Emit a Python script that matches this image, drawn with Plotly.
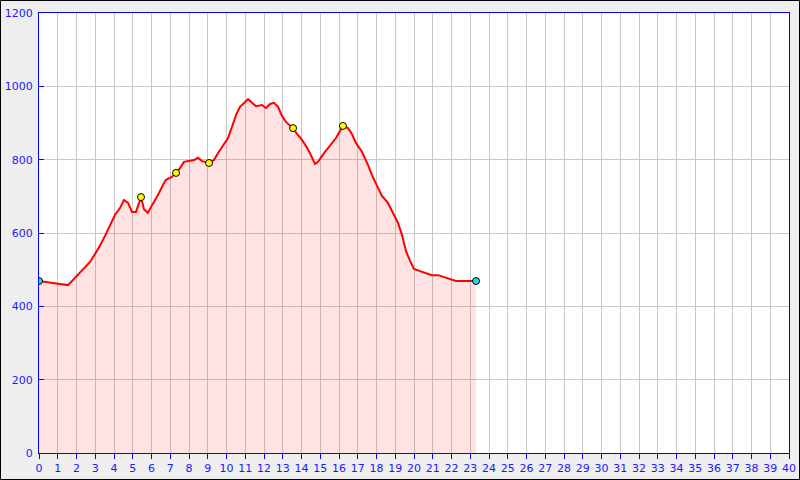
import plotly.graph_objects as go

# Distance (x) and elevation (y) of the profile
dist = [0, 0.59, 1.12, 1.55, 1.81, 2.08, 2.4, 2.72, 2.99, 3.25, 3.52, 3.79, 4.05, 4.32, 4.53,
        4.75, 4.96, 5.17, 5.33, 5.44, 5.6, 5.81, 6.03, 6.35, 6.61, 6.77, 7.09, 7.31, 7.52, 7.73,
        8.05, 8.27, 8.48, 8.69, 9.07, 9.33, 9.55, 9.76, 10.08, 10.29, 10.51, 10.72, 10.93, 11.15,
        11.36, 11.57, 11.89, 12.11, 12.32, 12.53, 12.75, 12.96, 13.17, 13.55, 13.76, 14.03, 14.24,
        14.45, 14.72, 14.88, 15.2, 15.52, 15.84, 16.05, 16.21, 16.48, 16.69, 16.91, 17.23, 17.55,
        17.76, 18.08, 18.29, 18.61, 18.83, 19.15, 19.36, 19.57, 19.79, 20.0, 20.32, 20.64, 20.96,
        21.28, 21.6, 21.92, 22.24, 22.72, 23.31]
elev = [469, 464, 461, 458, 472, 485, 505, 521, 543, 565, 592, 622, 649, 668, 690,
        682, 657, 657, 684, 698, 665, 655, 676, 704, 731, 745, 753, 764, 777, 794,
        796, 799, 805, 796, 791, 799, 818, 835, 859, 889, 922, 944, 955, 965,
        955, 946, 949, 941, 952, 955, 944, 919, 903, 886, 870, 854, 837,
        818, 788, 794, 818, 837, 859, 878, 892, 886, 870, 845, 821, 785,
        758, 723, 701, 682, 660, 627, 595, 551, 524, 502, 496, 491, 485,
        485, 480, 475, 469, 469, 469]

# Waypoints
wp_x = [5.44, 7.31, 9.07, 13.55, 16.21]
wp_y = [698, 764, 791, 886, 892]
end_x = [0, 23.31]
end_y = [469, 469]

x_ticks = list(range(0, 41))
y_ticks = [0, 200, 400, 600, 800, 1000, 1200]

fig = go.Figure()
fig.add_trace(go.Scatter(x=dist, y=elev, mode="lines", fill="tozeroy",
                         fillcolor="rgba(255,0,0,0.11)",
                         line=dict(color="#ff0000", width=2), hoverinfo="skip"))
fig.add_trace(go.Scatter(x=wp_x, y=wp_y, mode="markers",
                         marker=dict(color="#ffff00", size=7, line=dict(color="black", width=1))))
fig.add_trace(go.Scatter(x=end_x, y=end_y, mode="markers",
                         marker=dict(color="#22dddd", size=7, line=dict(color="black", width=1))))

W, H = 800, 480
ml, mr, mt, mb = 39, 11, 13, 27
pw, ph = W - ml - mr, H - mt - mb

fig.update_layout(
    width=W, height=H, autosize=False,
    margin=dict(l=ml, r=mr, t=mt, b=mb, pad=0),
    paper_bgcolor="#eeeeee", plot_bgcolor="white",
    showlegend=False,
    font=dict(family="DejaVu Sans", size=11, color="#1a1aff"),
    xaxis=dict(range=[0, 40], tickvals=x_ticks, ticktext=[str(v) for v in x_ticks],
               showgrid=True, gridcolor="#c8c8c8", gridwidth=1, automargin=False,
               showline=True, linecolor="#0000ff", linewidth=1, mirror=True,
               ticks="outside", ticklen=5, tickcolor="#0000ff", zeroline=False,
               tickfont=dict(size=11, color="#1a1aff")),
    yaxis=dict(range=[0, 1200], tickvals=y_ticks, ticktext=[str(v) for v in y_ticks],
               showgrid=True, gridcolor="#c8c8c8", gridwidth=1, automargin=False,
               showline=True, linecolor="#0000ff", linewidth=1, mirror=True,
               ticks="inside", ticklen=5, tickcolor="#0000ff", zeroline=False,
               ticklabelstandoff=3,
               tickfont=dict(size=11, color="#1a1aff")),
    shapes=[dict(type="rect", xref="paper", yref="paper",
                 x0=(-ml + 0.5) / pw, x1=1 + (mr - 0.5) / pw,
                 y0=(-mb + 0.5) / ph, y1=1 + (mt - 0.5) / ph,
                 line=dict(color="black", width=1), fillcolor="rgba(0,0,0,0)", layer="above")],
)

fig.write_html("out.html", config={"responsive": False, "displayModeBar": False},
               post_script="document.body.style.margin='0';document.body.style.padding='0';"
                           "document.body.style.overflow='hidden';")
